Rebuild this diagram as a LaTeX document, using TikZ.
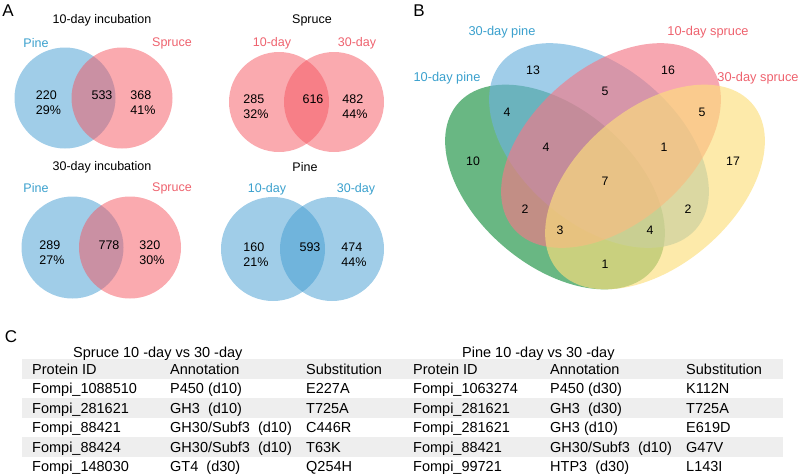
\documentclass[tikz,border=0pt]{standalone}
\usepackage{fontspec}
\setmainfont{Liberation Sans}
\usepackage{xcolor}
\usepackage{tikz}
\usetikzlibrary{positioning}

\definecolor{pineblue}{RGB}{65,155,209}
\definecolor{sprucered}{RGB}{245,85,95}
\definecolor{pinetext}{RGB}{58,160,205}
\definecolor{sprucetext}{RGB}{238,98,110}
\definecolor{vgreen}{RGB}{25,145,65}
\definecolor{vblue}{RGB}{109,178,221}
\definecolor{vpink}{RGB}{243,120,135}
\definecolor{vyellow}{RGB}{252,223,124}
\definecolor{bandgray}{RGB}{238,238,238}

\begin{document}
\begin{tikzpicture}[x=1pt, y=-1pt,
  panel/.style={font=\fontsize{17}{20}\selectfont},
  vtitle/.style={font=\fontsize{12.5}{15}\selectfont},
  pinelab/.style={vtitle, text=pinetext},
  sprucelab/.style={vtitle, text=sprucetext},
  count/.style={font=\fontsize{12.5}{15}\selectfont, align=left, inner sep=0pt},
  pineset/.style={fill=pineblue, fill opacity=0.5},
  spruceset/.style={fill=sprucered, fill opacity=0.5},
  quadset/.style={fill opacity=0.65},
  quadlab/.style={font=\fontsize{12.8}{15}\selectfont},
  quadnum/.style={font=\fontsize{12.3}{14}\selectfont, inner sep=0pt},
  cell/.style={font=\fontsize{14.5}{17}\selectfont, anchor=base west, inner sep=0pt},
  band/.style={fill=bandgray, draw=none}
]
\useasboundingbox (0,0) rectangle (800,474);

% panel A
\node[panel] (pa) at (8,11) {A};
\fill[pineset] (65,98) circle (50.5);
\fill[spruceset] (122,98) circle (50.5);
\node[vtitle] (t1) at (102,20) {10-day incubation};
\node[pinelab] (t1a) at (36,43) {Pine};
\node[sprucelab] (t1b) at (172,43) {Spruce};
\node[count] (n1a) at (48.5,102.5) {220\\29\%};
\node[count] (n1b) at (102,95) {533};
\node[count] (n1c) at (143,102.5) {368\\41\%};

\fill[spruceset] (279,102) circle (50);
\fill[spruceset] (334,102) circle (50);
\node[vtitle] (t2) at (312,20) {Spruce};
\node[sprucelab] (t2a) at (272,43) {10-day};
\node[sprucelab] (t2b) at (357,43) {30-day};
\node[count] (n2a) at (256,106.5) {285\\32\%};
\node[count] (n2b) at (313,99) {616};
\node[count] (n2c) at (355,106.5) {482\\44\%};

\fill[pineset] (72.5,247.5) circle (51);
\fill[spruceset] (130,247.5) circle (51);
\node[vtitle] (t3) at (102,167) {30-day incubation};
\node[pinelab] (t3a) at (36,188) {Pine};
\node[sprucelab] (t3b) at (172,188) {Spruce};
\node[count] (n3a) at (52,252.5) {289\\27\%};
\node[count] (n3b) at (109,245) {778};
\node[count] (n3c) at (152,252.5) {320\\30\%};

\fill[pineset] (273,249) circle (52);
\fill[pineset] (332,249) circle (52);
\node[vtitle] (t4) at (305,167) {Pine};
\node[pinelab] (t4a) at (267,189) {10-day};
\node[pinelab] (t4b) at (356,189) {30-day};
\node[count] (n4a) at (256,254.5) {160\\21\%};
\node[count] (n4b) at (310,247) {593};
\node[count] (n4c) at (354,254.5) {474\\44\%};

% panel B
\node[panel] (pb) at (419,11) {B};
\fill[quadset, vgreen, rotate around={-40.5:(555,187)}] (555,187) ellipse (128 and 78.5);
\fill[quadset, vblue, rotate around={-40.5:(599,145.5)}] (599,145.5) ellipse (128 and 78.5);
\fill[quadset, vpink, rotate around={40.5:(611,145.5)}] (611,145.5) ellipse (128 and 78.5);
\fill[quadset, vyellow, rotate around={40.5:(655,187)}] (655,187) ellipse (128 and 78.5);
\node[quadlab, text=pinetext] (q1) at (447,78) {10-day pine};
\node[quadlab, text=pinetext] (q2) at (502,32) {30-day pine};
\node[quadlab, text=sprucetext] (q3) at (708,32) {10-day spruce};
\node[quadlab, text=sprucetext] (q4) at (758,78) {30-day spruce};
\node[quadnum] (m1) at (533,70) {13};
\node[quadnum] (m2) at (668,70) {16};
\node[quadnum] (m3) at (605,91) {5};
\node[quadnum] (m4) at (507,112) {4};
\node[quadnum] (m5) at (702,112) {5};
\node[quadnum] (m6) at (546,147) {4};
\node[quadnum] (m7) at (664,147) {1};
\node[quadnum] (m8) at (473,161) {10};
\node[quadnum] (m9) at (733,161) {17};
\node[quadnum] (m10) at (605,181) {7};
\node[quadnum] (m11) at (525,209) {2};
\node[quadnum] (m12) at (688,209) {2};
\node[quadnum] (m13) at (560,230) {3};
\node[quadnum] (m14) at (650,230) {4};
\node[quadnum] (m15) at (605,264) {1};

% panel C
\node[panel] (pc) at (11,337) {C};
\fill[band] (22,359.25) rectangle (783,378.75);
\fill[band] (22,398.25) rectangle (783,417.75);
\fill[band] (22,437.25) rectangle (783,456.75);

\node[cell] (sptitle) at (73,357) {Spruce 10 -day vs 30 -day};
\node[cell] (sp0id) at (32,374) {Protein ID};
\node[cell] (sp0an) at (170,374) {Annotation};
\node[cell] (sp0su) at (306,374) {Substitution};
\node[cell] (sp1id) at (32,393.5) {Fompi\_1088510};
\node[cell] (sp1an) at (170,393.5) {P450 (d10)};
\node[cell] (sp1su) at (306,393.5) {E227A};
\node[cell] (sp2id) at (32,413) {Fompi\_281621};
\node[cell] (sp2an) at (170,413) {GH3~~(d10)};
\node[cell] (sp2su) at (306,413) {T725A};
\node[cell] (sp3id) at (32,432.5) {Fompi\_88421};
\node[cell] (sp3an) at (170,432.5) {GH30/Subf3~~(d10)};
\node[cell] (sp3su) at (306,432.5) {C446R};
\node[cell] (sp4id) at (32,452) {Fompi\_88424};
\node[cell] (sp4an) at (170,452) {GH30/Subf3~~(d10)};
\node[cell] (sp4su) at (306,452) {T63K};
\node[cell] (sp5id) at (32,471.5) {Fompi\_148030};
\node[cell] (sp5an) at (170,471.5) {GT4~~(d30)};
\node[cell] (sp5su) at (306,471.5) {Q254H};

\node[cell] (pntitle) at (462,357) {Pine 10 -day vs 30 -day};
\node[cell] (pn0id) at (413,374) {Protein ID};
\node[cell] (pn0an) at (550,374) {Annotation};
\node[cell] (pn0su) at (686,374) {Substitution};
\node[cell] (pn1id) at (413,393.5) {Fompi\_1063274};
\node[cell] (pn1an) at (550,393.5) {P450 (d30)};
\node[cell] (pn1su) at (686,393.5) {K112N};
\node[cell] (pn2id) at (413,413) {Fompi\_281621};
\node[cell] (pn2an) at (550,413) {GH3~~(d30)};
\node[cell] (pn2su) at (686,413) {T725A};
\node[cell] (pn3id) at (413,432.5) {Fompi\_281621};
\node[cell] (pn3an) at (550,432.5) {GH3 (d10)};
\node[cell] (pn3su) at (686,432.5) {E619D};
\node[cell] (pn4id) at (413,452) {Fompi\_88421};
\node[cell] (pn4an) at (550,452) {GH30/Subf3~~(d10)};
\node[cell] (pn4su) at (686,452) {G47V};
\node[cell] (pn5id) at (413,471.5) {Fompi\_99721};
\node[cell] (pn5an) at (550,471.5) {HTP3~~(d30)};
\node[cell] (pn5su) at (686,471.5) {L143I};
\end{tikzpicture}
\end{document}
